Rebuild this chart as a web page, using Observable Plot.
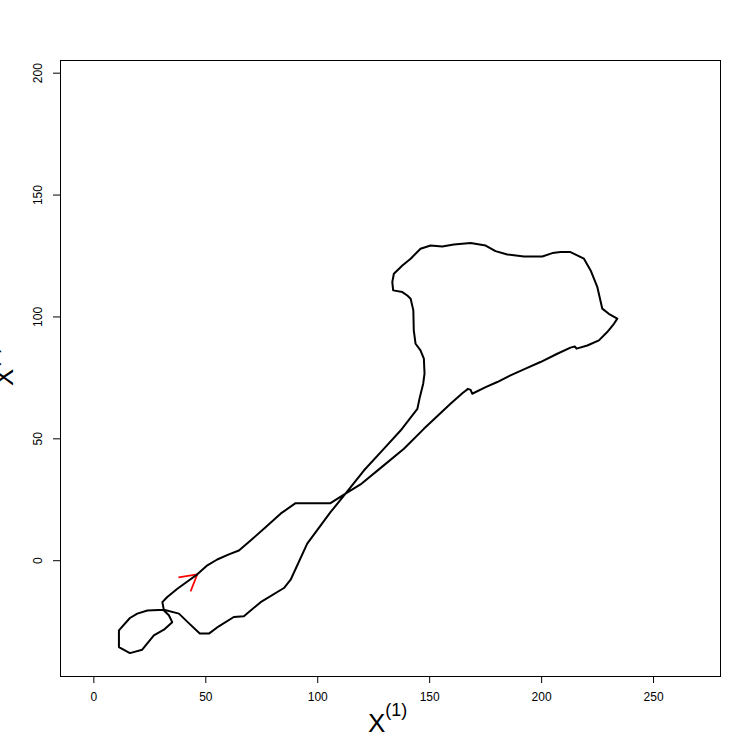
<!DOCTYPE html>
<html><head><meta charset="utf-8">
<script src="https://cdn.jsdelivr.net/npm/d3@7"></script>
<script src="https://cdn.jsdelivr.net/npm/@observablehq/plot@0.6"></script>
<style>
body{margin:0;background:#fff;}
#chart{width:750px;height:750px;}
</style>
</head><body><div id="chart"></div>
<script>
// trajectory (X1, X2), in drawing order starting at the red arrow
const pathX = [46.2,50.7,55.1,60.3,64.8,70.0,76.7,83.4,90.1,105.7,112.4,119.1,129.5,138.5,147.4,159.3,164.6,167.1,168.3,169.0,175.0,180.2,186.1,192.8,199.5,207.0,212.9,214.8,215.6,220.4,225.6,229.3,232.3,233.8,230.0,227.1,224.9,221.9,218.9,212.9,208.5,204.8,200.3,192.1,184.7,179.4,175.0,168.3,160.8,155.6,150.4,145.9,141.5,137.8,134.0,133.3,133.7,137.8,140.0,141.5,142.7,142.9,143.7,145.9,147.4,147.7,147.1,145.6,144.5,137.0,129.5,120.6,112.4,105.7,95.3,87.9,84.9,74.5,67.0,62.5,55.8,51.4,47.3,42.4,38.0,31.3,23.9,19.4,16.1,11.2,11.2,16.1,21.6,26.8,31.3,35.0,33.5,31.3,30.6,32.8,37.3,42.4,46.2];
const pathY = [-5.6,-1.9,0.5,2.6,4.2,8.3,13.7,19.3,23.6,23.6,27.5,31.3,39.1,45.9,54.1,64.4,68.7,70.5,70.1,68.5,71.2,73.3,76.0,78.8,81.5,84.9,87.4,87.9,87.0,88.3,90.4,93.8,97.2,99.3,101.3,103.4,112.2,119.1,123.9,126.6,126.6,126.2,124.8,124.8,125.6,127.0,129.3,130.3,129.7,128.9,129.3,128.0,123.9,121.1,117.7,114.3,110.9,110.2,108.8,107.5,102.7,94.5,89.0,86.3,82.9,76.7,72.6,67.1,62.3,53.4,45.9,37.0,27.5,19.9,7.0,-7.8,-11.2,-17.0,-22.8,-23.1,-26.9,-29.9,-29.9,-25.6,-21.7,-20.1,-20.4,-21.7,-23.5,-28.6,-35.4,-37.9,-36.5,-30.6,-28.3,-25.2,-22.4,-20.4,-17.0,-14.9,-11.5,-8.1,-5.6];

// red arrowhead: tip and two barb ends
const arrowTip = [46.2, -5.6];
const barbX = [37.8, 43.2];
const barbY = [-6.8, -12.6];

const xTicks = [0, 50, 100, 150, 200, 250];
const yTicks = [0, 50, 100, 150, 200];
const xDomain = [-14.9, 279.9];
const yDomain = [-47.5, 205.2];

const pts = pathX.map((x, i) => ({x, y: pathY[i]}));
const barbs = barbX.map((x, i) => ({x1: x, y1: barbY[i], x2: arrowTip[0], y2: arrowTip[1]}));

const chart = Plot.plot({
  width: 750,
  height: 750,
  marginLeft: 60,
  marginRight: 30,
  marginTop: 60,
  marginBottom: 74,
  style: {fontFamily: "'Liberation Sans', Arial, sans-serif", fontSize: "12px", background: "#fff", color: "#000"},
  x: {domain: xDomain},
  y: {domain: yDomain},
  marks: [
    Plot.frame({stroke: "#000", strokeWidth: 1}),
    Plot.axisX({ticks: xTicks, tickSize: 7, tickPadding: 9, fontSize: 12, label: null, stroke: "#000"}),
    Plot.axisY({ticks: yTicks, tickSize: 7, tickFormat: () => "", label: null, stroke: "#000"}),
    Plot.text(yTicks, {y: d => d, text: d => String(d), frameAnchor: "left", dx: -22, rotate: -90, textAnchor: "middle", lineAnchor: "middle", fontSize: 12, fill: "#000"}),
    Plot.link(barbs, {x1: "x1", y1: "y1", x2: "x2", y2: "y2", stroke: "red", strokeWidth: 1.7}),
    Plot.line(pts, {x: "x", y: "y", stroke: "#000", strokeWidth: 2, curve: "linear", strokeLinejoin: "round"})
  ]
});

document.getElementById("chart").appendChild(chart);

const svg = d3.select(chart);
const ff = "'Liberation Sans', Arial, sans-serif";
// x axis title X^(1)
const xt = svg.append("text").attr("x", 368).attr("y", 732).attr("text-anchor", "start").attr("font-family", ff).attr("font-size", 26).attr("fill", "#000");
xt.append("tspan").text("X");
xt.append("tspan").attr("dy", -16).attr("font-size", 18).text("(1)");
// y axis title X^(2), rotated, partly outside the picture at the left edge (as in the reference)
const yt = svg.append("text").attr("transform", "translate(13,386) rotate(-90)").attr("text-anchor", "start").attr("font-family", ff).attr("font-size", 26).attr("fill", "#000");
yt.append("tspan").text("X");
yt.append("tspan").attr("dy", -16).attr("font-size", 18).text("(2)");
</script>
</body></html>
